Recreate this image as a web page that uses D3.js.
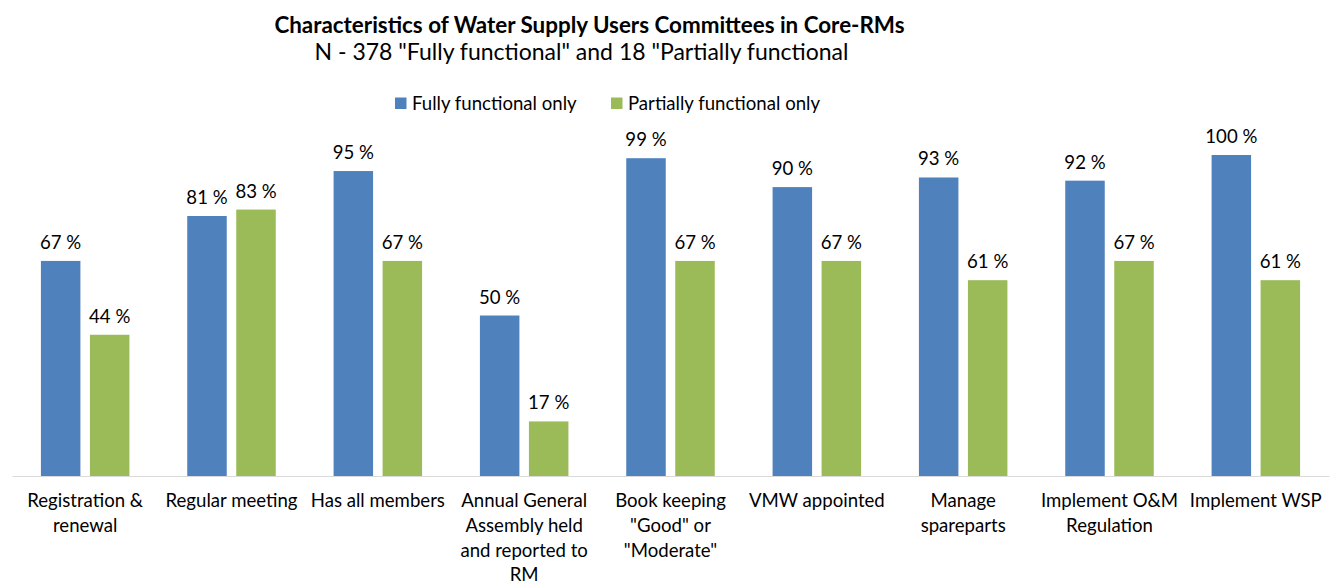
<!DOCTYPE html>
<html>
<head>
<meta charset="utf-8">
<script src="https://cdn.jsdelivr.net/npm/d3@7"></script>
<style>
  html, body { margin: 0; padding: 0; background: #fff; }
  svg { display: block; }
  svg text { font-family: Lato, "Open Sans", sans-serif; }
</style>
</head>
<body>
<svg id="chart" width="1335" height="582"></svg>
<script>
// Category labels, one array of wrapped lines per category
const categories = [
  ["Registration &", "renewal"],
  ["Regular meeting"],
  ["Has all members"],
  ["Annual General", "Assembly held", "and reported to", "RM"],
  ["Book keeping", "\"Good\" or", "\"Moderate\""],
  ["VMW appointed"],
  ["Manage", "spareparts"],
  ["Implement O&M", "Regulation"],
  ["Implement WSP"]
];
const seriesNames = ["Fully functional only", "Partially functional only"];
const fullyFunctional = [67, 81, 95, 50, 99, 90, 93, 92, 100];
const partiallyFunctional = [44, 83, 67, 17, 67, 67, 61, 67, 61];
const seriesColors = ["#4f81bd", "#9bbb59"];

const titleText = "Characteristics of Water Supply Users Committees in Core-RMs";
const subtitleText = "N - 378 \"Fully functional\" and 18 \"Partially functional";

const svg = d3.select("#chart");
const keys = categories.map((c, i) => "c" + i);
const values = [fullyFunctional, partiallyFunctional];

const x = d3.scaleBand().domain(keys).range([12, 1329]).paddingInner(0).paddingOuter(0);
const xInner = d3.scaleBand().domain(seriesNames).range([0, x.bandwidth()])
  .paddingInner(0.194).paddingOuter(0.59);
const y = d3.scaleLinear().domain([0, 100]).range([476, 155]);

// Title block
svg.append("text").attr("x", 589.5).attr("y", 33).attr("text-anchor", "middle")
  .style("font-size", "22.4px").style("font-weight", "bold").attr("fill", "#000")
  .text(titleText);
svg.append("text").attr("x", 581.5).attr("y", 60).attr("text-anchor", "middle")
  .style("font-size", "23px").attr("fill", "#000")
  .text(subtitleText);

// Legend
const legendItems = [{ x: 395, tx: 412 }, { x: 611, tx: 628 }];
const legend = svg.append("g");
seriesNames.forEach((name, i) => {
  legend.append("rect").attr("x", legendItems[i].x).attr("y", 97.5)
    .attr("width", 11.5).attr("height", 11.5).attr("fill", seriesColors[i]);
  legend.append("text").attr("x", legendItems[i].tx).attr("y", 109.5)
    .style("font-size", "18.6px").attr("fill", "#000").text(name);
});

// Bars and value labels
const groups = svg.append("g").selectAll("g").data(keys).join("g")
  .attr("transform", k => `translate(${x(k)},0)`);

seriesNames.forEach((name, s) => {
  groups.append("rect")
    .attr("x", xInner(name))
    .attr("y", (k, i) => y(values[s][i]))
    .attr("width", xInner.bandwidth())
    .attr("height", (k, i) => y(0) - y(values[s][i]))
    .attr("fill", seriesColors[s]);
  groups.append("text")
    .attr("x", xInner(name) + xInner.bandwidth() / 2)
    .attr("y", (k, i) => y(values[s][i]) - 12)
    .attr("text-anchor", "middle")
    .style("font-size", "18.6px").attr("fill", "#000")
    .text((k, i) => values[s][i] + " %");
});

// Category axis
const axis = svg.append("g").attr("transform", `translate(0,${y(0)})`)
  .call(d3.axisBottom(x).tickSize(0).tickFormat(""));
axis.attr("font-family", null).attr("font-size", null);
axis.select(".domain").attr("stroke", "#d9d9d9").attr("stroke-width", 1);
axis.selectAll(".tick text").remove();
axis.selectAll(".tick").each(function (k, i) {
  const t = d3.select(this).append("text")
    .attr("text-anchor", "middle").attr("fill", "#000")
    .style("font-size", "18.6px");
  categories[i].forEach((line, j) => {
    t.append("tspan").attr("x", 0).attr("y", 31 + j * 24.8).text(line);
  });
});
</script>
</body>
</html>
